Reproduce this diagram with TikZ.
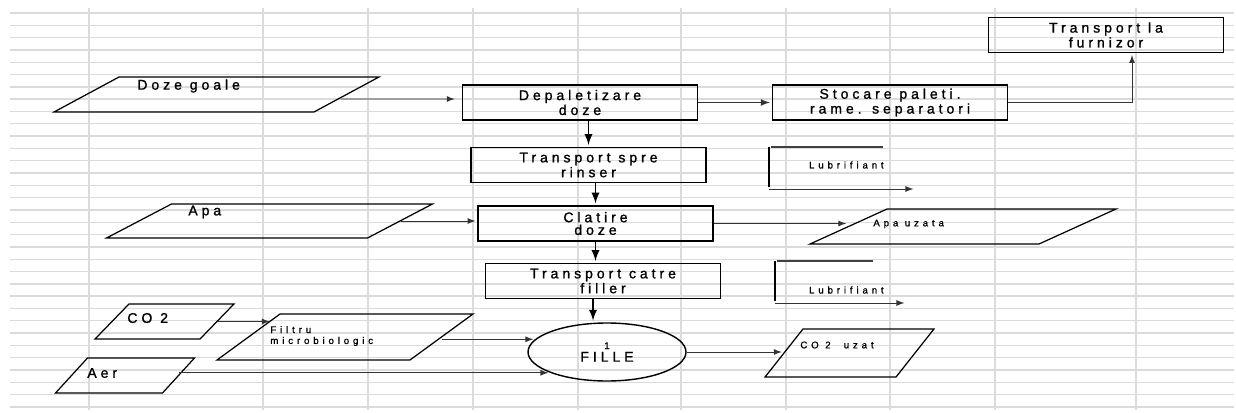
\documentclass[tikz,border=0pt]{standalone}
\usepackage{fontspec}
\setmainfont{Liberation Sans}
\newfontfamily\wideface[LetterSpace=28,FakeBold=1.2]{Liberation Sans}
\newfontfamily\smallface[LetterSpace=40,FakeBold=1]{Liberation Sans}
\newcommand\flowtext{\wideface\fontsize{8}{7.2}\selectfont}
\newcommand\flowsmall{\smallface\fontsize{5.5}{6.2}\selectfont}
\usetikzlibrary{arrows,shapes.geometric,positioning,calc}
\tikzset{
  gridline/.style={draw=black!14,line width=0.8pt},
  procbox/.style={draw,line width=1pt,minimum width=4.7cm,minimum height=0.7cm,inner sep=0pt,align=center,font=\flowtext},
  para/.style={draw,transform shape,xslant=#1,line width=0.7pt,inner sep=0pt},
  paratext/.style={anchor=west,inner sep=0pt,font=\flowtext},
  smalltext/.style={anchor=west,inner sep=0pt,align=left,font=\flowsmall},
  link/.style={->,>=latex,line width=0.55pt,draw=black!80},
  flow/.style={->,>=latex,line width=1.1pt}
}
\begin{document}
\begin{tikzpicture}[x=0.02cm,y=-0.02cm,shorten >=1pt]
\useasboundingbox (0,0) rectangle (1236,412);
\foreach \k in {0,...,32}
  \draw[gridline] (10,{13+12.31*\k}) -- (1236,{13+12.31*\k});
\foreach \gx in {89,263,368,473,578,681,786,890,995,1136}
  \draw[gridline] (\gx,8) -- (\gx,412);

\node[procbox] (depal) at (580,102.5) {Depaletizare\\doze};
\node[procbox] (stoc) at (890,102.5) {Stocare paleti.\\rame. separatori};
\node[procbox] (furn) at (1106,35) {Transport la\\furnizor};
\node[procbox] (rins) at (588.5,165) {Transport spre\\rinser};
\node[procbox] (clat) at (595.5,223.5) {Clatire\\doze};
\node[procbox] (fill) at (603,281) {Transport catre\\filler};
\node[draw,ellipse,line width=0.8pt,minimum width=3.16cm,minimum height=1.16cm,inner sep=0pt,align=center,font=\flowtext] (fille) at (607,352) {{\flowsmall 1}\\FILLE};

\node[para=1.857,minimum width=5.2cm,minimum height=0.7cm] (doze) at (216.5,94.5) {};
\node[paratext] (dozeT) at (137,86) {Doze goale};
\node[para=1.91,minimum width=5.22cm,minimum height=0.68cm] (apa) at (269.5,221) {};
\node[paratext] (apaT) at (188,212) {Apa};
\node[para=2.2,minimum width=4.58cm,minimum height=0.7cm] (apauz) at (963,226.5) {};
\node[smalltext] (apauzT) at (873,224) {Apa uzata};
\node[para=0.97,minimum width=2.1cm,minimum height=0.7cm] (co2) at (164.5,321.5) {};
\node[paratext] (co2T) at (127,318) {CO 2};
\node[para=1.37,minimum width=3.86cm,minimum height=0.92cm] (filt) at (345,337) {};
\node[smalltext] (filtT) at (270,336) {Filtru\\microbiologic};
\node[para=0.914,minimum width=2.14cm,minimum height=0.7cm] (aer) at (125,375.5) {};
\node[paratext] (aerT) at (87,373) {Aer};
\node[para=0.79,minimum width=2.62cm,minimum height=0.96cm] (co2uz) at (849.5,353) {};
\node[smalltext] (co2uzT) at (800,345) {CO 2~ uzat};

\node[smalltext,anchor=east] (lub1) at (884,165) {Lubrifiant};
\node[smalltext,anchor=east] (lub2) at (884,290) {Lubrifiant};
\coordinate (lubtop1) at (883,147);
\coordinate (lubin1) at (769,147);
\coordinate (lubbot1) at (769,189);
\coordinate (lubout1) at (915,189);
\coordinate (lubtop2) at (873,261);
\coordinate (lubin2) at (775,261);
\coordinate (lubbot2) at (775,303);
\coordinate (lubout2) at (906,303);
\draw[line width=0.8pt,black!75] (lubtop1) -- (lubin1);
\draw[line width=1.6pt] (lubin1) -- (lubbot1);
\draw[link] (lubbot1) -- (lubout1);
\draw[line width=0.8pt,black!75] (lubtop2) -- (lubin2);
\draw[line width=1.6pt] (lubin2) -- (lubbot2);
\draw[link] (lubbot2) -- (lubout2);

\draw[flow] (depal.south -| rins.north) -- (rins.north);
\draw[flow] (rins.south -| clat.north) -- (clat.north);
\draw[flow] (clat.south) -- (clat.south |- fill.north);
\draw[flow] ($(fill.south)+(-10,0)$) -- ($(fill.south |- fille.north)+(-10,0)$);

\draw[link,shorten >=4pt] ($(doze.east)+(-6,4.5)$) -- ($(depal.west)+(0,-3.5)$);
\draw[link,line width=0.8pt] (depal.east) -- (stoc.west);
\draw[link] (stoc.east) -| ($(furn.south)+(26,0)$);
\draw[link] (apa.east) -- (apa.east -| clat.west);
\draw[link] (clat.east) -- (clat.east -| apauz.west);
\draw[link,shorten >=6pt] (co2.east) -- (co2.east -| filt.north west);
\draw[link] (filt.east |- fille.170) -- (fille.170);
\draw[link] (aer.east |- fille.200) -- (fille.200);
\draw[link] (fille.east) -- (fille.east -| co2uz.west);
\end{tikzpicture}
\end{document}
